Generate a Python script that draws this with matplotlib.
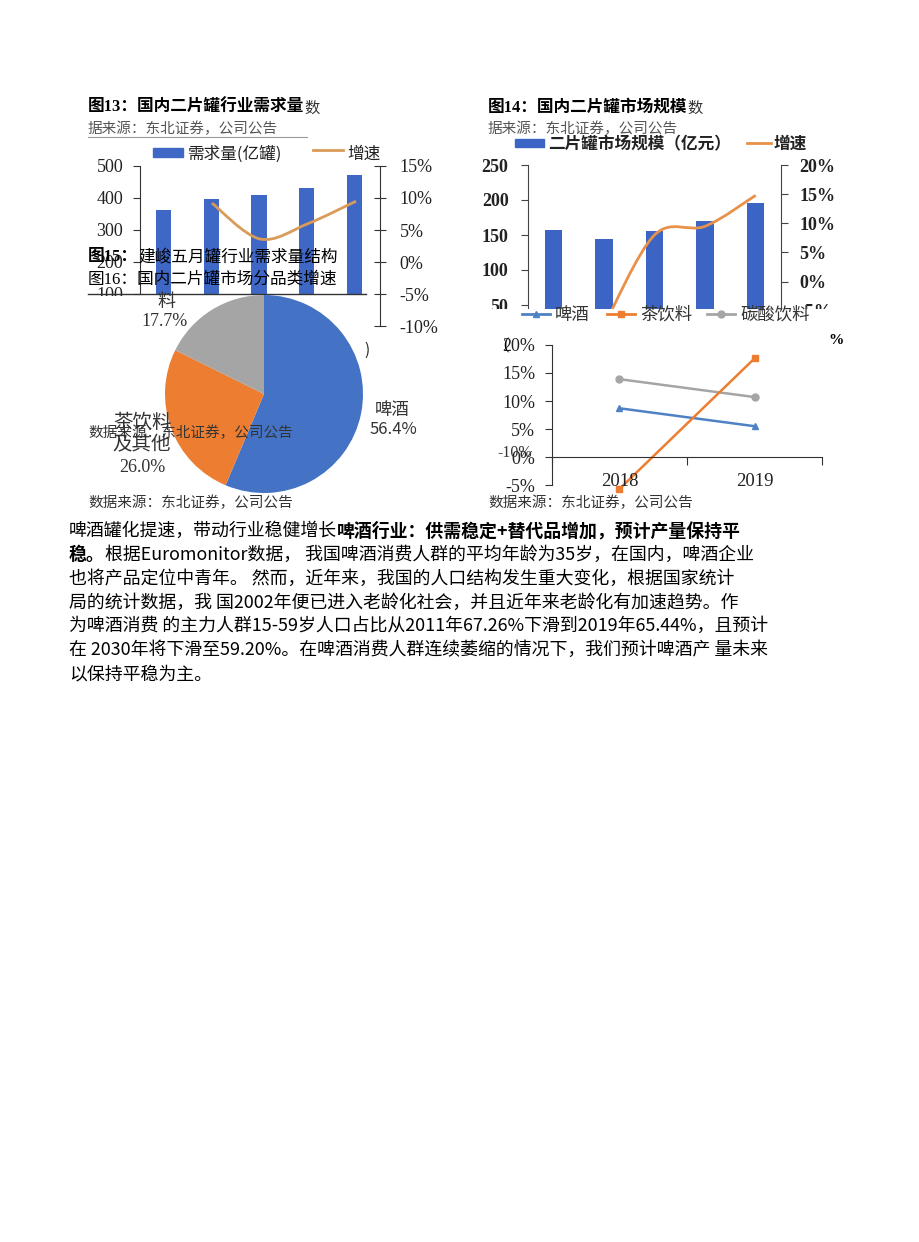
import matplotlib
matplotlib.use('Agg')
import matplotlib.pyplot as plt
from matplotlib.patches import Rectangle, PathPatch
from matplotlib.lines import Line2D
from matplotlib.path import Path
import numpy as np

CJK = ['Noto Sans CJK SC', 'DejaVu Sans']
SERIF = ['Liberation Serif', 'Noto Sans CJK SC']
plt.rcParams['font.family'] = CJK
plt.rcParams['axes.unicode_minus'] = False

# ---- data ----
# fig 13: demand of two-piece cans
demand13 = [362, 397, 409, 432, 472]
growth13 = [None, 9.2, 3.6, 6.0, 9.5]
ticks13_left = [100, 200, 300, 400, 500]
ticks13_right = [-10, -5, 0, 5, 10, 15]

# fig 14: market size
size14 = [157, 145, 156, 170, 196]
growth14 = [None, -7.6, 8.0, 9.5, 14.8]
ticks14_left = [0, 50, 100, 150, 200, 250]
ticks14_right = [-10, -5, 0, 5, 10, 15, 20]

# fig 15: demand structure pie
pie_vals = [56.4, 26.0, 17.7]
pie_colors = ['#4472C4', '#ED7D31', '#A5A5A5']

# fig 16: growth by category
years16 = ['2018', '2019']
beer16 = [8.7, 5.5]
tea16 = [-5.7, 17.6]
soda16 = [13.9, 10.7]
ticks16 = [-5, 0, 5, 10, 15, 20]

W, H = 920, 1242
fig = plt.figure(figsize=(W / 100, H / 100), dpi=100)
fig.patch.set_facecolor('white')
rend = fig.canvas.get_renderer()


def box(x0, y0, x1, y1):
    return [x0 / W, 1 - y1 / H, (x1 - x0) / W, (y1 - y0) / H]


def txt(x, y, s, size=11, **kw):
    kw.setdefault('family', CJK)
    kw.setdefault('va', 'center')
    return fig.text(x / W, 1 - y / H, s, fontsize=size, **kw)


def hline(x0, x1, y, **kw):
    fig.add_artist(Line2D([x0 / W, x1 / W], [1 - y / H, 1 - y / H],
                          transform=fig.transFigure, **kw))


def rect(x0, y0, x1, y1, **kw):
    fig.add_artist(Rectangle((x0 / W, 1 - y1 / H), (x1 - x0) / W, (y1 - y0) / H,
                             transform=fig.transFigure, **kw))


def run(x, y, parts, size, **kw):
    # parts: (text, weight[, extra kwargs]) placed one after another
    for p in parts:
        s, w = p[0], p[1]
        extra = dict(kw)
        if len(p) > 2:
            extra.update(p[2])
        t = txt(x, y, s, extra.pop('size', size), weight=w, **extra)
        x = t.get_window_extent(rend).x1
    return x


def smooth(xs, ys):
    pts = list(zip(xs, ys))
    verts, codes = [pts[0]], [Path.MOVETO]
    for i in range(len(pts) - 1):
        p0 = pts[i - 1] if i > 0 else pts[i]
        p1, p2 = pts[i], pts[i + 1]
        p3 = pts[i + 2] if i + 2 < len(pts) else p2
        c1 = (p1[0] + (p2[0] - p0[0]) / 6, p1[1] + (p2[1] - p0[1]) / 6)
        c2 = (p2[0] - (p3[0] - p1[0]) / 6, p2[1] - (p3[1] - p1[1]) / 6)
        verts += [c1, c2, p2]
        codes += [Path.CURVE4] * 3
    return Path(verts, codes)


def pct(v):
    return '%d%%' % v


# ================= fig 13 =================
x13 = np.arange(len(demand13))
ax13 = fig.add_axes(box(140, 166, 378, 294))
ax13.bar(x13, demand13, width=0.32, color='#3F68C6')
ax13.set_xlim(-0.5, 4.5)
ax13.set_ylim(100, 500)
ax13.set_yticks(ticks13_left)
ax13.set_yticklabels([str(t) for t in ticks13_left], family=SERIF, fontsize=13, color='#222')
ax13.set_xticks([])
for s in ['top', 'right', 'bottom']:
    ax13.spines[s].set_visible(False)
ax13.spines['left'].set_color('#333')
ax13.tick_params(axis='y', length=5, pad=7, color='#333')
ax13.patch.set_alpha(0)

ax13r = fig.add_axes(box(140, 166, 380, 326))
ax13r.patch.set_alpha(0)
ax13r.set_xlim(-0.5, 4.5)
ax13r.set_ylim(-10, 15)
for s in ['top', 'left', 'bottom']:
    ax13r.spines[s].set_visible(False)
ax13r.spines['right'].set_color('#333')
ax13r.yaxis.tick_right()
ax13r.set_yticks(ticks13_right)
ax13r.set_yticklabels([pct(t) for t in ticks13_right], family=SERIF, fontsize=13, color='#222')
ax13r.tick_params(axis='y', direction='inout', length=8, pad=10, color='#333')
ax13r.set_xticks([])
gx = [i for i, g in enumerate(growth13) if g is not None]
gy = [g for g in growth13 if g is not None]
ax13r.add_patch(PathPatch(smooth(gx, gy), fill=False, edgecolor='#D99B58', lw=2))

run(88, 108, [('图13：国内二片罐行业需求量', 'bold', {'family': SERIF}),
              ('数', 'normal', {'size': 11, 'color': '#333'})], 12)
txt(88, 129, '据来源：东北证券，公司公告', 10.5, color='#555')
hline(88, 307, 137, color='#999', lw=0.8)
rect(153, 148, 183, 157, color='#3F68C6')
txt(188, 154, '需求量(亿罐)', 12, color='#222')
hline(313, 343, 150, color='#D99B58', lw=2)
txt(347, 154, '增速', 12, color='#222')
txt(364, 350, ')', 11, color='#222')

# ================= fig 14 =================
x14 = np.arange(len(size14))
ax14 = fig.add_axes(box(528, 165, 781, 340))
ax14.bar(x14, size14, width=0.34, color='#3B64C4')
ax14.set_xlim(-0.5, 4.5)
ax14.set_ylim(0, 250)
ax14.set_yticks(ticks14_left)
ax14.set_yticklabels([str(t) for t in ticks14_left], family=SERIF, fontsize=13,
                     weight='bold', color='#222')
ax14.set_xticks([])
for s in ['top', 'right', 'bottom']:
    ax14.spines[s].set_visible(False)
ax14.spines['left'].set_color('#444')
ax14.tick_params(axis='y', length=5, pad=9, color='#444')

ax14r = ax14.twinx()
ax14r.set_ylim(-10, 20)
for s in ['top', 'left', 'bottom']:
    ax14r.spines[s].set_visible(False)
ax14r.spines['right'].set_color('#444')
ax14r.set_yticks(ticks14_right)
ax14r.set_yticklabels([pct(t) for t in ticks14_right], family=SERIF, fontsize=13,
                      weight='bold', color='#222')
ax14r.tick_params(axis='y', length=5, pad=8, color='#444')
gx = [i for i, g in enumerate(growth14) if g is not None]
gy = [g for g in growth14 if g is not None]
ax14r.add_patch(PathPatch(smooth(gx, gy), fill=False, edgecolor='#E8914A', lw=2))

run(488, 108, [('图14：国内二片罐市场规模', 'bold', {'family': SERIF}),
               ('数', 'normal', {'size': 11, 'color': '#333'})], 12)
txt(488, 129, '据来源：东北证券，公司公告', 10.5, color='#555')
rect(515, 139, 544, 147, color='#3B64C4')
txt(548, 144, '二片罐市场规模（亿元）', 12, weight='bold', color='#222')
hline(747, 771, 143, color='#E8914A', lw=2)
txt(774, 144, '增速', 12, weight='bold', color='#222')

# ================= fig 15 (pie), over fig 13 =================
rect(84, 296, 372, 500, facecolor='white', edgecolor='none', zorder=1)
hline(88, 366, 294, color='#333', lw=1, zorder=1.2)
axp = fig.add_axes(box(165, 295, 363, 493))
axp.set_zorder(2)
axp.pie(pie_vals, colors=pie_colors, startangle=90, counterclock=False,
        radius=1, wedgeprops=dict(linewidth=0))
axp.set_xlim(-1, 1)
axp.set_ylim(-1, 1)
axp.set_aspect('equal')
axp.axis('off')

txt(166, 302, '料', 13, ha='center', color='#333', zorder=4)
txt(165, 321, '17.7%', 13, ha='center', family=SERIF, color='#333', zorder=4)
txt(392, 410, '啤酒', 12.5, ha='center', color='#333', zorder=4)
txt(393, 430, '56.4%', 12, ha='center', color='#333', zorder=4)
txt(142, 422, '茶饮料', 14, ha='center', color='#333', zorder=4)
txt(142, 445, '及其他', 14, ha='center', color='#333', zorder=4)
txt(142, 467, '26.0%', 13, ha='center', family=SERIF, color='#333', zorder=4)
txt(88, 433, '数据来源：东北证券，公司公告', 10.5, color='#333', zorder=5)
txt(88, 503, '数据来源：东北证券，公司公告', 10.5, color='#333', zorder=5)

run(88, 257, [('图15：', 'bold', {'family': SERIF}),
              ('建峻五月罐行业需求量结构', 'normal')], 12, zorder=5)
txt(88, 280, '图16：国内二片罐市场分品类增速', 12, family=SERIF, zorder=5)

# ================= fig 16 (lines), over fig 14 =================
rect(480, 309, 842, 500, facecolor='white', edgecolor='none', zorder=1)
ax16 = fig.add_axes(box(552, 345, 822, 485))
ax16.set_zorder(2)
ax16.patch.set_alpha(0)
x16 = np.arange(len(years16))
ax16.plot(x16, soda16, color='#A5A5A5', lw=1.8, marker='o', ms=5, clip_on=False)
ax16.plot(x16, beer16, color='#4F81C5', lw=1.8, marker='^', ms=5, clip_on=False)
ax16.plot(x16, tea16, color='#ED7D31', lw=1.8, marker='s', ms=5, clip_on=False)
ax16.set_xlim(-0.5, 1.5)
ax16.set_ylim(-5, 20)
ax16.set_yticks(ticks16)
ax16.set_yticklabels([pct(t) for t in ticks16], family=SERIF, fontsize=13, color='#222')
ax16.set_xticks([-0.5, 0.5, 1.5])
ax16.set_xticklabels([])
for s in ['top', 'right']:
    ax16.spines[s].set_visible(False)
ax16.spines['bottom'].set_position(('data', 0))
ax16.spines['bottom'].set_color('#333')
ax16.spines['left'].set_color('#333')
ax16.tick_params(axis='y', length=5, pad=7, color='#333')
ax16.tick_params(axis='x', length=6, color='#333')
for i, yr in enumerate(years16):
    ax16.text(i, -4.4, yr, ha='center', va='center', family=SERIF, fontsize=13.5, color='#222')

ly = 314
for x0, x1, col, mk, lab in [(522, 550, '#4F81C5', '^', '啤酒'),
                             (607, 635, '#ED7D31', 's', '茶饮料'),
                             (707, 735, '#A5A5A5', 'o', '碳酸饮料')]:
    fig.add_artist(Line2D([x0 / W, x1 / W], [1 - ly / H] * 2, transform=fig.transFigure,
                          color=col, lw=2, zorder=3))
    fig.add_artist(Line2D([(x0 + x1) / 2 / W], [1 - ly / H], transform=fig.transFigure,
                          color=col, marker=mk, ms=5, zorder=3))
    txt(x1 + 5, ly + 1, lab, 12.5, color='#333', zorder=4)

txt(503, 345, '(', 12, family=SERIF, zorder=4)
txt(828, 341, '%', 11, weight='bold', family=SERIF, zorder=4)
txt(497, 453, '-10%', 11.5, family=SERIF, color='#333', zorder=4)
txt(488, 503, '数据来源：东北证券，公司公告', 10.5, color='#333', zorder=5)

# ================= body text =================
body = [
    [('啤酒罐化提速，带动行业稳健增长', 'normal'),
     ('啤酒行业：供需稳定+替代品增加，预计产量保持平', 'bold')],
    [('稳。', 'bold'),
     ('根据Euromonitor数据， 我国啤酒消费人群的平均年龄为35岁，在国内，啤酒企业', 'normal')],
    [('也将产品定位中青年。 然而，近年来，我国的人口结构发生重大变化，根据国家统计', 'normal')],
    [('局的统计数据，我 国2002年便已进入老龄化社会，并且近年来老龄化有加速趋势。作', 'normal')],
    [('为啤酒消费 的主力人群15-59岁人口占比从2011年67.26%下滑到2019年65.44%，且预计', 'normal')],
    [('在 2030年将下滑至59.20%。在啤酒消费人群连续萎缩的情况下，我们预计啤酒产 量未来', 'normal')],
    [('以保持平稳为主。', 'normal')],
]
body_y = [531, 555, 579, 603, 626, 650, 674]
for parts, y in zip(body, body_y):
    run(69, y, parts, 12.9, color='black')

fig.savefig('out.png', dpi=100)
